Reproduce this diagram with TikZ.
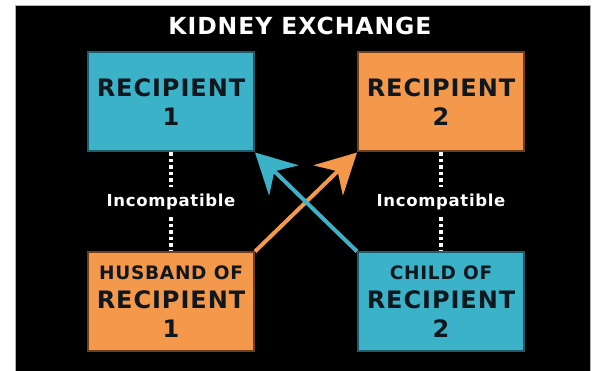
\documentclass[tikz,border=0pt]{standalone}
\usepackage{fontspec}
\setmainfont{DejaVu Sans}[LetterSpace=4]
\usetikzlibrary{arrows.meta}
\definecolor{cyanfill}{RGB}{60,178,200}
\definecolor{cyanedge}{RGB}{30,92,106}
\definecolor{amberfill}{RGB}{244,152,76}
\definecolor{amberedge}{RGB}{112,62,26}
\definecolor{boxtext}{RGB}{14,22,30}
\tikzstyle{cyanbox} = [rectangle, text centered, align=center, draw=cyanedge, line width=2pt, fill=cyanfill, text=boxtext, minimum width=166pt, minimum height=99pt, inner sep=0pt, font=\bfseries\fontsize{24}{29}\selectfont]
\tikzstyle{amberbox} = [rectangle, text centered, align=center, draw=amberedge, line width=2pt, fill=amberfill, text=boxtext, minimum width=166pt, minimum height=99pt, inner sep=0pt, font=\bfseries\fontsize{24}{29}\selectfont]
\tikzstyle{incompat} = [text=white, minimum height=30pt, inner sep=0pt, font=\bfseries\fontsize{16.5}{18}\selectfont]
\tikzstyle{dotlink} = [draw=white, line width=3.5pt, dash pattern=on 3.5pt off 3pt]
\tikzstyle{arrow} = [line width=4pt, -{Stealth[length=40pt,width=42pt,inset=13pt]}]

\begin{document}
\begin{tikzpicture}[x=1pt, y=1pt, node distance=200pt]
  \useasboundingbox [fill=white] (0,0) rectangle (593,371);
  \fill [black, draw=gray!60, line width=1pt] (15,-1) rectangle (590,365);

  \node (title) [text=white, font=\bfseries\fontsize{23.5}{26}\selectfont] at (300,345) {KIDNEY EXCHANGE};

  \node (rec1) [cyanbox] at (171,269) {RECIPIENT\\1};
  \node (rec2) [amberbox, right of=rec1, xshift=70pt] {RECIPIENT\\2};
  \node (husband) [amberbox, below of=rec1] {{\fontsize{18.5}{24}\selectfont HUSBAND OF}\\RECIPIENT\\1};
  \node (child) [cyanbox, below of=rec2] {{\fontsize{18.5}{24}\selectfont CHILD OF}\\RECIPIENT\\2};

  \node (inc1) [incompat, below of=rec1, node distance=100pt] {Incompatible};
  \node (inc2) [incompat, below of=rec2, node distance=100pt] {Incompatible};

  \draw [dotlink] (rec1.south) -- (inc1.north);
  \draw [dotlink] (inc1.south) -- (husband.north);
  \draw [dotlink] (rec2.south) -- (inc2.north);
  \draw [dotlink] (inc2.south) -- (child.north);

  \draw [arrow, amberfill] (husband.north east) -- (rec2.south west);
  \draw [arrow, cyanfill] (child.north west) -- (rec1.south east);
\end{tikzpicture}
\end{document}
